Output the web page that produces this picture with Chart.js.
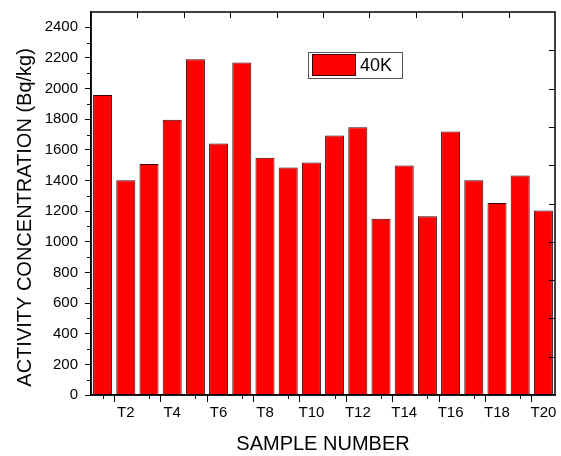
<!DOCTYPE html>
<html>
<head>
<meta charset="utf-8">
<script src="https://cdn.jsdelivr.net/npm/chart.js@4.4.1/dist/chart.umd.min.js"></script>
<style>
  html, body { margin: 0; padding: 0; background: #fff; }
  #wrap { width: 561px; height: 456px; }
</style>
</head>
<body>
<div id="wrap"><canvas id="myChart"></canvas></div>
<script>
const samples = ['T1','T2','T3','T4','T5','T6','T7','T8','T9','T10',
                 'T11','T12','T13','T14','T15','T16','T17','T18','T19','T20'];
const k40 = [1958, 1401, 1508, 1796, 2191, 1642, 2170, 1549, 1485, 1518,
             1694, 1748, 1151, 1498, 1166, 1720, 1401, 1253, 1432, 1205];
const seriesName = '40K';
const yMax = 2500;

const FONT = "'Liberation Sans', Arial, sans-serif";

// frame, minor ticks, inward top/right ticks and the in-plot legend
const extras = {
  id: 'extras',
  afterDraw(chart) {
    const c = chart.ctx, a = chart.chartArea;
    const x = chart.scales.x, y = chart.scales.y;
    c.save();
    c.strokeStyle = '#000';
    c.lineWidth = 1.5;
    c.strokeRect(a.left, a.top, a.right - a.left, a.bottom - a.top);
    c.lineWidth = 1;
    c.beginPath();
    // minor y ticks (odd hundreds), outward
    for (let v = 100; v < yMax; v += 200) {
      const py = Math.round(y.getPixelForValue(v)) + 0.5;
      c.moveTo(a.left - 4, py); c.lineTo(a.left, py);
    }
    // minor x ticks at odd samples, outward
    for (let i = 0; i < samples.length; i += 2) {
      const px = Math.round(x.getPixelForValue(i)) + 0.5;
      c.moveTo(px, a.bottom); c.lineTo(px, a.bottom + 4);
    }
    // top ticks, inward, at every second bar boundary
    for (let i = 1; i < samples.length - 1; i += 2) {
      const px = Math.round((x.getPixelForValue(i) + x.getPixelForValue(i + 1)) / 2) + 0.5;
      c.moveTo(px, a.top); c.lineTo(px, a.top + 6);
    }
    // right ticks, inward, every 250
    for (let v = 250; v < yMax; v += 250) {
      const py = Math.round(y.getPixelForValue(v)) + 0.5;
      c.moveTo(a.right, py); c.lineTo(a.right - 6, py);
    }
    c.stroke();

    // legend box
    const lx = a.left + 217, ly = a.top + 40;
    c.fillStyle = '#fff';
    c.fillRect(lx, ly, 94, 26);
    c.strokeStyle = '#555';
    c.lineWidth = 1;
    c.strokeRect(lx + 0.5, ly + 0.5, 94, 26);
    const ds = chart.data.datasets[0];
    c.fillStyle = ds.backgroundColor;
    c.fillRect(lx + 4, ly + 2.5, 43, 21);
    c.strokeStyle = ds.borderColor;
    c.strokeRect(lx + 4.5, ly + 2.5, 43, 21);
    c.fillStyle = '#000';
    c.font = '18px ' + FONT;
    c.textBaseline = 'middle';
    c.fillText(ds.label, lx + 52, ly + 14);
    c.restore();
  }
};

new Chart(document.getElementById('myChart'), {
  type: 'bar',
  data: {
    labels: samples,
    datasets: [{
      label: seriesName,
      data: k40,
      backgroundColor: '#ff0000',
      borderColor: '#3a0000',
      borderWidth: 1,
      barPercentage: 0.82,
      categoryPercentage: 1
    }]
  },
  options: {
    responsive: true,
    maintainAspectRatio: false,
    animation: false,
    layout: { padding: { top: 12, right: 6, left: 0, bottom: 0 } },
    plugins: { legend: { display: false }, tooltip: { enabled: false } },
    scales: {
      x: {
        afterFit(s) { s.height = 61; },
        grid: {
          drawOnChartArea: false,
          tickLength: 7,
          tickColor: (ctx) => (ctx.index % 2 === 1 ? '#000' : 'rgba(0,0,0,0)'),
          lineWidth: 1
        },
        border: { color: '#000', width: 1.5 },
        ticks: {
          autoSkip: false,
          maxRotation: 0,
          padding: 2,
          color: '#000',
          font: { family: FONT, size: 15 },
          callback: function (val, i) { return i % 2 === 1 ? this.getLabelForValue(val) : ''; }
        },
        title: {
          display: true,
          text: 'SAMPLE NUMBER',
          color: '#000',
          font: { family: FONT, size: 20 },
          padding: { top: 0, bottom: 0 }
        }
      },
      y: {
        min: 0,
        max: yMax,
        afterFit(s) { s.width = 91; s.paddingTop = 0; s.paddingBottom = 0; },
        grid: {
          drawOnChartArea: false,
          tickLength: 6,
          tickColor: (ctx) => (ctx.tick && ctx.tick.value % 200 === 0 ? '#000' : 'rgba(0,0,0,0)')
        },
        border: { color: '#000', width: 1.5 },
        ticks: {
          stepSize: 100,
          padding: 7,
          color: '#000',
          font: { family: FONT, size: 15 },
          callback: (v) => (v % 200 === 0 ? v : '')
        },
        title: {
          display: true,
          // trailing spaces push the visible text a little lower, as in the original
          text: 'ACTIVITY CONCENTRATION (Bq/kg)     ',
          color: '#000',
          font: { family: FONT, size: 20 },
          padding: { top: 13, bottom: 0 }
        }
      }
    }
  },
  plugins: [extras]
});
</script>
</body>
</html>
